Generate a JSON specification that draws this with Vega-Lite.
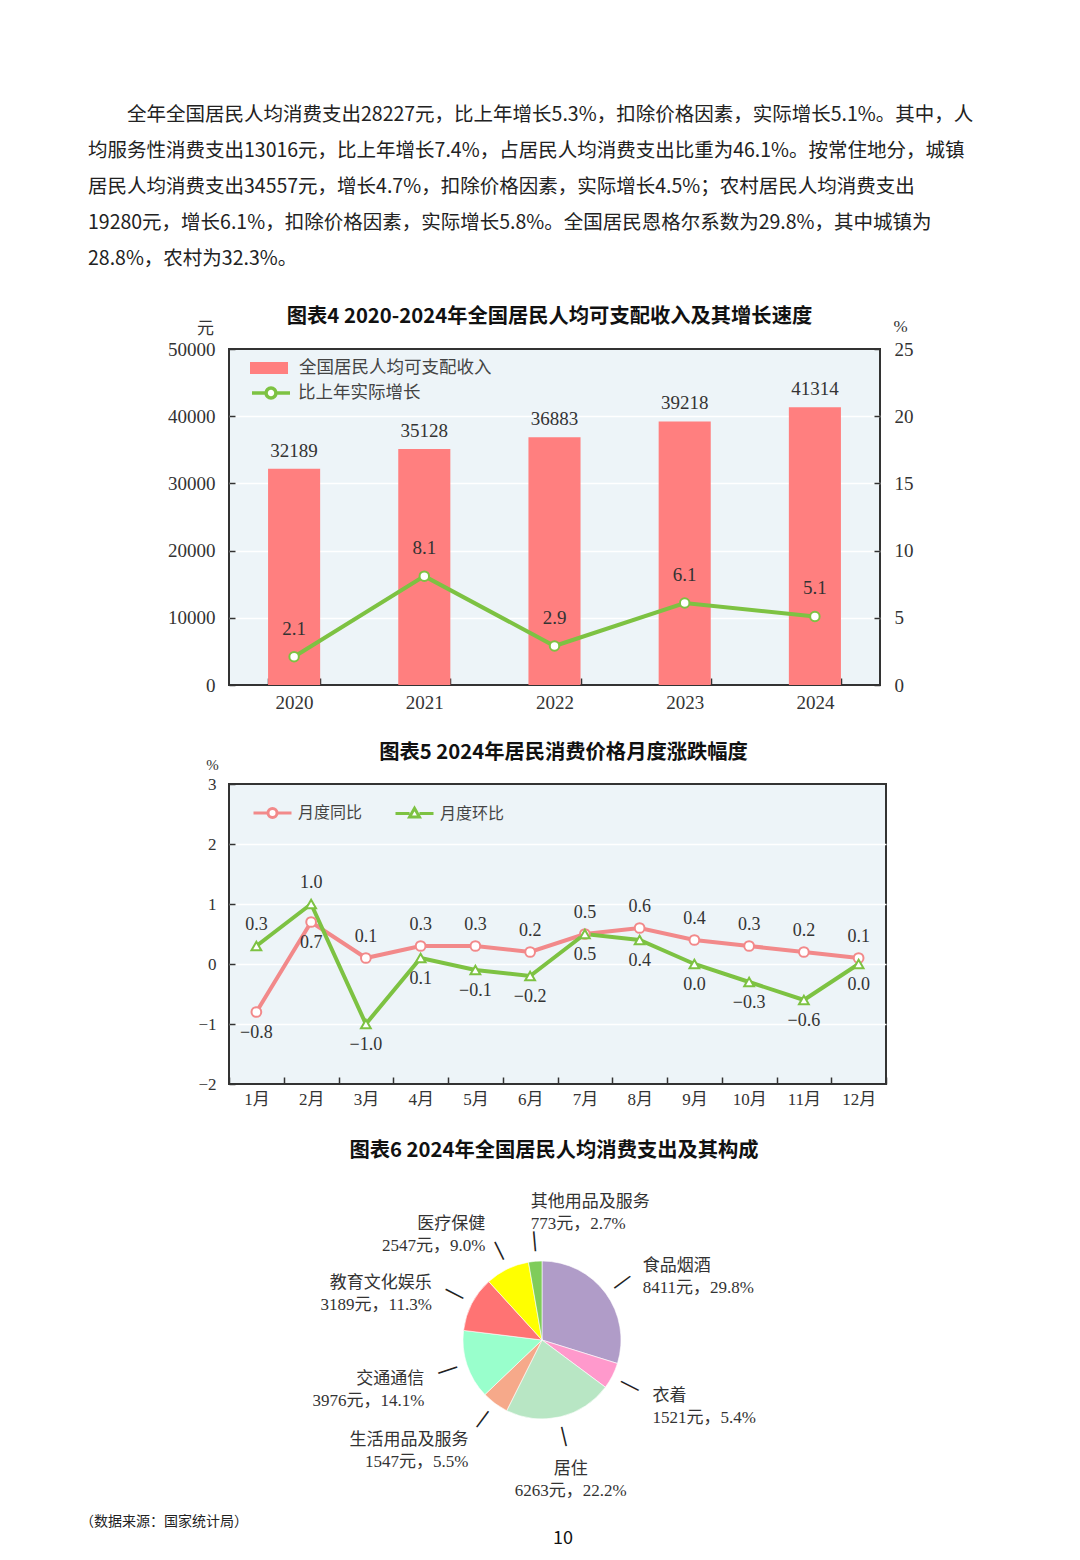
{
  "$schema": "https://vega.github.io/schema/vega-lite/v6.json",
  "padding": {"left": 80, "top": 105, "right": 10, "bottom": 10},
  "background": "white",
  "config": {
    "view": {"stroke": null},
    "font": "Noto Sans CJK SC",
    "title": {"font": "Noto Sans CJK SC", "color": "#111"},
    "axis": {
      "labelFont": "Liberation Serif",
      "labelColor": "#333",
      "labelFontSize": 19,
      "titleFont": "Liberation Serif, Noto Sans CJK SC",
      "titleFontWeight": "normal",
      "titleColor": "#333",
      "titleFontSize": 17,
      "tickColor": "#333",
      "tickWidth": 1.5,
      "domain": false,
      "gridColor": "white",
      "gridWidth": 1.5
    },
    "legend": {"labelFont": "Noto Sans CJK SC", "labelFontSize": 17, "labelColor": "#444", "labelLimit": 400, "padding": 0}
  },
  "title": {"text": "10", "orient": "bottom", "anchor": "start", "frame": "group", "align": "center", "dx": 334, "offset": 1, "fontSize": 18, "fontWeight": "normal", "color": "#111"},
  "bounds": "flush",
  "vconcat": [
    {
      "title": {"text": "（数据来源：国家统计局）", "orient": "bottom", "anchor": "start", "frame": "group", "dx": -149, "offset": 16, "fontSize": 14, "fontWeight": "normal", "color": "#222"},
      "bounds": "flush",
      "vconcat": [
        {
          "title": {
            "text": [
              "\u200b　　全年全国居民人均消费支出28227元，比上年增长5.3%，扣除价格因素，实际增长5.1%。其中，人",
              "均服务性消费支出13016元，比上年增长7.4%，占居民人均消费支出比重为46.1%。按常住地分，城镇",
              "居民人均消费支出34557元，增长4.7%，扣除价格因素，实际增长4.5%；农村居民人均消费支出",
              "19280元，增长6.1%，扣除价格因素，实际增长5.8%。全国居民恩格尔系数为29.8%，其中城镇为",
              "28.8%，农村为32.3%。"
            ],
            "anchor": "start", "frame": "group", "dx": -141, "offset": 17, "baseline": "bottom",
            "fontSize": 19.5, "fontWeight": "normal", "color": "#222", "lineHeight": 36
          },
          "bounds": "flush",
          "spacing": 99,
          "resolve": {
            "scale": {"fill": "independent", "stroke": "independent", "shape": "independent", "color": "independent"},
            "legend": {"fill": "independent", "stroke": "independent", "shape": "independent", "color": "independent"}
          },
          "vconcat": [
            {
              "width": 651,
              "height": 336,
              "view": {"fill": "#edf4f8", "stroke": "#333", "strokeWidth": 2},
              "title": {"text": "图表4 2020-2024年全国居民人均可支配收入及其增长速度", "frame": "group", "dx": -5, "offset": -30, "baseline": "bottom", "fontSize": 20.3, "fontWeight": "bold"},
              "data": {"values": [
                {"year": "2020", "income": 32189, "growth": 2.1},
                {"year": "2021", "income": 35128, "growth": 8.1},
                {"year": "2022", "income": 36883, "growth": 2.9},
                {"year": "2023", "income": 39218, "growth": 6.1},
                {"year": "2024", "income": 41314, "growth": 5.1}
              ]},
              "encoding": {
                "x": {"field": "year", "type": "ordinal", "title": null,
                  "scale": {"type": "band", "paddingInner": 0.6, "paddingOuter": 0.3},
                  "axis": {"labelAngle": 0, "tickBand": "extent", "tickSize": -7, "labelPadding": 15}}
              },
              "layer": [
                {
                  "encoding": {
                    "y": {"field": "income", "type": "quantitative", "scale": {"domain": [0, 50000]},
                      "axis": {"values": [0, 10000, 20000, 30000, 40000, 50000], "format": "d", "tickSize": -6, "labelPadding": 20,
                        "title": "元", "titleAngle": 0, "titleX": -24, "titleY": -12, "titleAlign": "center", "titleBaseline": "bottom",
                        "gridColor": {"condition": {"test": "datum.value === 0 || datum.value === 50000", "value": "transparent"}, "value": "white"}}}
                  },
                  "layer": [
                    {
                      "mark": {"type": "bar"},
                      "encoding": {
                        "fill": {"datum": "全国居民人均可支配收入", "scale": {"range": ["#ff7f7f"]},
                          "legend": {"orient": "none", "legendX": 21, "legendY": 0, "title": null,
                            "symbolType": "M-1,-0.32H1V0.32H-1Z", "symbolSize": 1444, "symbolStrokeWidth": 0, "labelOffset": 11, "labelFontSize": 17.5}}
                      }
                    },
                    {
                      "mark": {"type": "text", "baseline": "bottom", "dy": -8, "font": "Liberation Serif", "fontSize": 19, "color": "#333"},
                      "encoding": {"text": {"field": "income", "type": "quantitative", "format": "d"}}
                    }
                  ]
                },
                {
                  "encoding": {
                    "y": {"field": "growth", "type": "quantitative", "scale": {"domain": [0, 25]},
                      "axis": {"orient": "right", "values": [0, 5, 10, 15, 20, 25], "grid": false, "tickSize": -6, "labelPadding": 20,
                        "title": "%", "titleAngle": 0, "titleX": 20, "titleY": -14, "titleAlign": "center", "titleBaseline": "bottom"}}
                  },
                  "layer": [
                    {
                      "mark": {"type": "line", "strokeWidth": 4},
                      "encoding": {
                        "stroke": {"datum": "比上年实际增长", "scale": {"range": ["#7dc242"]},
                          "legend": {"orient": "none", "legendX": 21, "legendY": 23, "title": null,
                            "symbolType": "M-1,0H-0.26M0.26,0H1M0.26,0A0.26,0.26,0,1,1,-0.26,0A0.26,0.26,0,1,1,0.26,0",
                            "symbolSize": 1444, "symbolStrokeWidth": 3.5, "labelOffset": 6, "labelFontSize": 17.5,
                            "encode": {"symbols": {"update": {"fill": {"value": "white"}}}}}}
                      }
                    },
                    {
                      "mark": {"type": "point", "filled": true, "fill": "white", "size": 90, "strokeWidth": 2, "opacity": 1},
                      "encoding": {"stroke": {"datum": "比上年实际增长"}}
                    },
                    {
                      "mark": {"type": "text", "baseline": "bottom", "dy": -18, "font": "Liberation Serif", "fontSize": 19, "color": "#333"},
                      "encoding": {"text": {"field": "growth", "type": "quantitative", "format": ".1f"}}
                    }
                  ]
                }
              ],
              "resolve": {"scale": {"y": "independent"}}
            },
            {
              "width": 657,
              "height": 300,
              "view": {"fill": "#edf4f8", "stroke": "#333", "strokeWidth": 2},
              "title": {"text": "图表5 2024年居民消费价格月度涨跌幅度", "frame": "group", "dx": 6, "offset": -26, "baseline": "bottom", "fontSize": 20.3, "fontWeight": "bold"},
              "data": {"values": [
                {"month": "1月", "series": "月度同比", "value": -0.8},
                {"month": "2月", "series": "月度同比", "value": 0.7},
                {"month": "3月", "series": "月度同比", "value": 0.1},
                {"month": "4月", "series": "月度同比", "value": 0.3},
                {"month": "5月", "series": "月度同比", "value": 0.3},
                {"month": "6月", "series": "月度同比", "value": 0.2},
                {"month": "7月", "series": "月度同比", "value": 0.5},
                {"month": "8月", "series": "月度同比", "value": 0.6},
                {"month": "9月", "series": "月度同比", "value": 0.4},
                {"month": "10月", "series": "月度同比", "value": 0.3},
                {"month": "11月", "series": "月度同比", "value": 0.2},
                {"month": "12月", "series": "月度同比", "value": 0.1},
                {"month": "1月", "series": "月度环比", "value": 0.3},
                {"month": "2月", "series": "月度环比", "value": 1.0},
                {"month": "3月", "series": "月度环比", "value": -1.0},
                {"month": "4月", "series": "月度环比", "value": 0.1},
                {"month": "5月", "series": "月度环比", "value": -0.1},
                {"month": "6月", "series": "月度环比", "value": -0.2},
                {"month": "7月", "series": "月度环比", "value": 0.5},
                {"month": "8月", "series": "月度环比", "value": 0.4},
                {"month": "9月", "series": "月度环比", "value": 0.0},
                {"month": "10月", "series": "月度环比", "value": -0.3},
                {"month": "11月", "series": "月度环比", "value": -0.6},
                {"month": "12月", "series": "月度环比", "value": 0.0}
              ]},
              "transform": [
                {"joinaggregate": [{"op": "max", "field": "value", "as": "vmax"}, {"op": "min", "field": "value", "as": "vmin"}], "groupby": ["month"]}
              ],
              "encoding": {
                "x": {"field": "month", "type": "ordinal", "title": null,
                  "sort": ["1月", "2月", "3月", "4月", "5月", "6月", "7月", "8月", "9月", "10月", "11月", "12月"],
                  "scale": {"type": "band", "padding": 0},
                  "axis": {"labelAngle": 0, "tickBand": "extent", "tickSize": -7, "labelPadding": 14, "labelFont": "Liberation Serif, Noto Sans CJK SC", "labelFontSize": 17}},
                "y": {"field": "value", "type": "quantitative", "scale": {"domain": [-2, 3]},
                  "axis": {"values": [-2, -1, 0, 1, 2, 3], "tickSize": -6, "labelPadding": 19, "labelFontSize": 17,
                    "title": "%", "titleAngle": 0, "titleX": -17, "titleY": -12, "titleAlign": "center", "titleBaseline": "bottom", "titleFontSize": 15,
                    "gridColor": {"condition": {"test": "datum.value === -2 || datum.value === 3", "value": "transparent"}, "value": "white"}}}
              },
              "layer": [
                {
                  "mark": {"type": "line", "strokeWidth": 4},
                  "encoding": {
                    "stroke": {"field": "series", "type": "nominal",
                      "scale": {"domain": ["月度同比", "月度环比"], "range": ["#f2898a", "#7dc242"]},
                      "legend": {"orient": "none", "legendX": 23, "legendY": 8, "direction": "horizontal", "title": null,
                        "symbolSize": 1444, "symbolStrokeWidth": 3, "columnPadding": 26, "labelOffset": 5, "labelFontSize": 16,
                        "encode": {"symbols": {"update": {
                          "fill": {"value": "white"},
                          "shape": {"signal": "datum.value === '月度同比' ? 'M-1,0H-0.24M0.24,0H1M0.24,0A0.24,0.24,0,1,1,-0.24,0A0.24,0.24,0,1,1,0.24,0' : 'M-1,0H-0.26M0.26,0H1M0,-0.28L0.26,0.18L-0.26,0.18Z'"}
                        }}}}
                    }
                  }
                },
                {
                  "transform": [{"filter": "datum.series === '月度同比'"}],
                  "mark": {"type": "point", "shape": "circle", "filled": true, "fill": "white", "size": 95, "strokeWidth": 2, "opacity": 1},
                  "encoding": {"stroke": {"field": "series", "type": "nominal"}}
                },
                {
                  "transform": [{"filter": "datum.series === '月度环比'"}],
                  "mark": {"type": "point", "shape": "triangle-up", "filled": true, "fill": "white", "size": 95, "strokeWidth": 2, "opacity": 1},
                  "encoding": {"stroke": {"field": "series", "type": "nominal"}}
                },
                {
                  "transform": [{"filter": "datum.series === '月度同比' ? datum.value === datum.vmax : datum.value > datum.vmin"}],
                  "mark": {"type": "text", "baseline": "bottom", "dy": -12, "font": "Liberation Serif", "fontSize": 18, "color": "#333"},
                  "encoding": {"text": {"field": "value", "type": "quantitative", "format": ".1f"}}
                },
                {
                  "transform": [{"filter": "!(datum.series === '月度同比' ? datum.value === datum.vmax : datum.value > datum.vmin)"}],
                  "mark": {"type": "text", "baseline": "top", "dy": 12, "font": "Liberation Serif", "fontSize": 18, "color": "#333"},
                  "encoding": {"text": {"field": "value", "type": "quantitative", "format": ".1f"}}
                }
              ]
            },
            {
              "width": 626,
              "height": 314,
              "title": {"text": "图表6 2024年全国居民人均消费支出及其构成", "frame": "group", "dx": 12, "offset": 2, "baseline": "bottom", "fontSize": 20.3, "fontWeight": "bold"},
              "data": {"values": [
                {"idx": 1, "item": "食品烟酒", "amount": 8411, "share": 29.8},
                {"idx": 2, "item": "衣着", "amount": 1521, "share": 5.4},
                {"idx": 3, "item": "居住", "amount": 6263, "share": 22.2},
                {"idx": 4, "item": "生活用品及服务", "amount": 1547, "share": 5.5},
                {"idx": 5, "item": "交通通信", "amount": 3976, "share": 14.1},
                {"idx": 6, "item": "教育文化娱乐", "amount": 3189, "share": 11.3},
                {"idx": 7, "item": "医疗保健", "amount": 2547, "share": 9.0},
                {"idx": 8, "item": "其他用品及服务", "amount": 773, "share": 2.7}
              ]},
              "transform": [
                {"joinaggregate": [{"op": "sum", "field": "amount", "as": "total"}]},
                {"calculate": "[datum.item, datum.amount + '元，' + format(datum.share, '.1f') + '%']", "as": "label"}
              ],
              "encoding": {
                "theta": {"field": "amount", "type": "quantitative", "stack": true},
                "order": {"field": "idx", "type": "quantitative"}
              },
              "layer": [
                {
                  "mark": {"type": "arc", "outerRadius": 79, "stroke": "white", "strokeWidth": 0.6},
                  "encoding": {
                    "color": {"field": "item", "type": "nominal",
                      "scale": {
                        "domain": ["食品烟酒", "衣着", "居住", "生活用品及服务", "交通通信", "教育文化娱乐", "医疗保健", "其他用品及服务"],
                        "range": ["#b09cc8", "#ff99cc", "#b8e6c4", "#f6a98a", "#99ffcc", "#ff7373", "#ffff00", "#7fcc5a"]
                      },
                      "legend": null}
                  }
                },
                {
                  "mark": {"type": "text", "text": "—", "radius": 99, "font": "DejaVu Sans", "fontSize": 22, "color": "#222", "align": "center", "baseline": "middle",
                    "angle": {"expr": "(datum.amount_start + datum.amount_end) / datum.total * 180 - 90"}}
                },
                {
                  "mark": {"type": "text", "font": "Liberation Serif, Noto Sans CJK SC", "fontSize": 17, "lineHeight": 22, "color": "#333",
                    "radius": {"expr": "124 + 12 * max(0, cos((datum.amount_start + datum.amount_end) / datum.total * PI) - 0.5)"},
                    "align": {"expr": "sin((datum.amount_start + datum.amount_end) / datum.total * PI) > 0.3 ? 'left' : (sin((datum.amount_start + datum.amount_end) / datum.total * PI) < -0.3 ? 'right' : (cos((datum.amount_start + datum.amount_end) / datum.total * PI) > 0 ? 'left' : 'center'))"},
                    "baseline": {"expr": "abs(sin((datum.amount_start + datum.amount_end) / datum.total * PI)) > 0.3 ? 'middle' : (cos((datum.amount_start + datum.amount_end) / datum.total * PI) > 0 ? 'bottom' : 'top')"}},
                  "encoding": {"text": {"field": "label"}}
                }
              ]
            }
          ]
        }
      ]
    }
  ]
}
